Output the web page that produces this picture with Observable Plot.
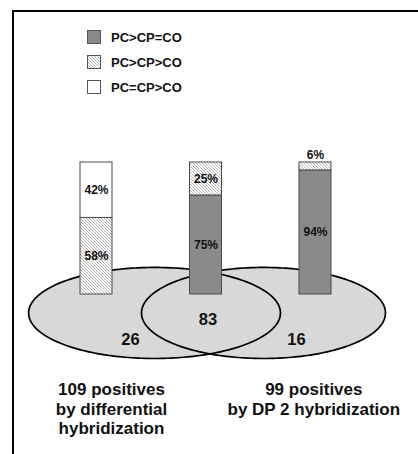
<!DOCTYPE html>
<html>
<head>
<meta charset="utf-8">
<script src="https://cdn.jsdelivr.net/npm/d3@7"></script>
<script src="https://cdn.jsdelivr.net/npm/@observablehq/plot@0.6"></script>
<style>
  html, body { margin: 0; padding: 0; background: #fff; }
  #wrap { position: relative; width: 418px; height: 454px; overflow: hidden;
          font-family: "Liberation Sans", Arial, Helvetica, sans-serif; }
  #chart { position: absolute; left: 0; top: 0; }
  #frame { position: absolute; left: 12px; top: 10px; right: -4px; bottom: -4px;
           border-top: 2px solid #000; border-left: 2px solid #000; pointer-events: none; }
  #legend { position: absolute; left: 87px; top: 24.5px; }
  .row { height: 25px; display: flex; align-items: center; font-weight: bold;
         font-size: 13px; color: #111; }
  .row svg { margin-right: 10px; display: block; }
</style>
</head>
<body>
<svg width="0" height="0" style="position:absolute">
  <defs>
    <pattern id="hatch" patternUnits="userSpaceOnUse" width="3" height="3">
      <rect width="3" height="3" fill="#fff"/>
      <path d="M-1,2 L1,4 M0,0 L3,3 M2,-1 L4,1" stroke="#8c8c8c" stroke-width="0.65"/>
    </pattern>
  </defs>
</svg>
<div id="wrap">
  <div id="chart"></div>
  <div id="frame"></div>
  <div id="legend"></div>
</div>
<script>
// ---------- data ----------
const slots = ["differential only", "both", "DP 2 only"];
const categories = ["PC>CP=CO", "PC>CP>CO", "PC=CP>CO"];
const pctPcCpEqCo = [0, 75, 94];     // PC>CP=CO
const pctPcCpGtCo = [58, 25, 6];     // PC>CP>CO
const pctPcEqCpGtCo = [42, 0, 0];    // PC=CP>CO
const counts = [26, 83, 16];
const setNames = ["109 positives\nby differential\nhybridization", "99 positives\nby DP 2 hybridization"];

// ---------- layout / style ----------
const categoryFills = ["#8a8a8a", "url(#hatch)", "#ffffff"];
const ellipseShapes = [{cx: 1.03, rx: 1.15}, {cx: 2.025, rx: 1.114}];
const ellipseCy = -14, ellipseRy = 34.5;
const countPos = [[0.81, -34.1], [1.518, -18.9], [2.3265, -34.1]];
const setLabelPos = [[0.637, -65.6], [2.4845, -65.6]];

// stacked segments built from the series
const series = [pctPcCpEqCo, pctPcCpGtCo, pctPcEqCpGtCo];
const segments = [];
slots.forEach((s, i) => {
  let acc = 0;
  categories.forEach((c, k) => {
    const v = series[k][i];
    if (v > 0) { segments.push({slot: i, category: c, pct: v, y1: acc, y2: acc + v}); acc += v; }
  });
});

// ellipse outlines (shape geometry)
const ellPts = [];
ellipseShapes.forEach((e, j) => {
  const n = 240;
  for (let t = 0; t < n; t++) {
    const a = (t / n) * 2 * Math.PI;
    ellPts.push({set: j, x: e.cx + e.rx * Math.cos(a), y: ellipseCy + ellipseRy * Math.sin(a)});
  }
});

const countRows = counts.map((c, i) => ({text: String(c), x: countPos[i][0], y: countPos[i][1]}));
const setRows = setNames.map((t, i) => ({text: t, x: setLabelPos[i][0], y: setLabelPos[i][1]}));

const font = '"Liberation Sans", Arial, Helvetica, sans-serif';

const chart = Plot.plot({
  width: 418,
  height: 454,
  margin: 0,
  style: {background: "transparent", fontFamily: font, overflow: "visible"},
  x: {domain: [0, 3], range: [41.25, 369.75], axis: null},
  y: {domain: [0, 100], range: [294, 162], axis: null},
  color: {type: "ordinal", domain: categories, range: categoryFills},
  marks: [
    Plot.line(ellPts, {x: "x", y: "y", z: "set", fill: "#d8d8d8", stroke: "none", curve: "linear-closed"}),
    Plot.line(ellPts, {x: "x", y: "y", z: "set", stroke: "#000", strokeWidth: 1.7, curve: "linear-closed"}),
    Plot.rect(segments, {
      x1: d => d.slot, x2: d => d.slot + 1, y1: "y1", y2: "y2",
      fill: "category", stroke: "#4a4a4a", strokeWidth: 1,
      insetLeft: 38.75, insetRight: 38.75
    }),
    Plot.text(segments.filter(d => d.pct >= 10), {
      x: d => d.slot + 0.5, y: d => (d.y1 + d.y2) / 2, text: d => d.pct + "%",
      fontSize: 12, fontWeight: "bold", fill: "#111"
    }),
    Plot.text(segments.filter(d => d.pct < 10), {
      x: d => d.slot + 0.5, y: "y2", text: d => d.pct + "%",
      lineAnchor: "bottom", dy: -4,
      fontSize: 12, fontWeight: "bold", fill: "#111"
    }),
    Plot.text(countRows, {x: "x", y: "y", text: "text", fontSize: 16.5, fontWeight: "bold", fill: "#111"}),
    Plot.text(setRows, {
      x: "x", y: "y", text: "text", lineAnchor: "top", lineHeight: 1.15,
      fontSize: 17, fontWeight: "bold", fill: "#111"
    })
  ]
});
document.getElementById("chart").appendChild(chart);

// legend
const legend = document.getElementById("legend");
categories.forEach((c, i) => {
  const row = document.createElement("div");
  row.className = "row";
  row.innerHTML = `<svg width="14" height="14"><rect x="0.5" y="0.5" width="13" height="13" fill="${categoryFills[i]}" stroke="#555" stroke-width="1"/></svg><span></span>`;
  row.querySelector("span").textContent = c;
  legend.appendChild(row);
});
</script>
</body>
</html>
